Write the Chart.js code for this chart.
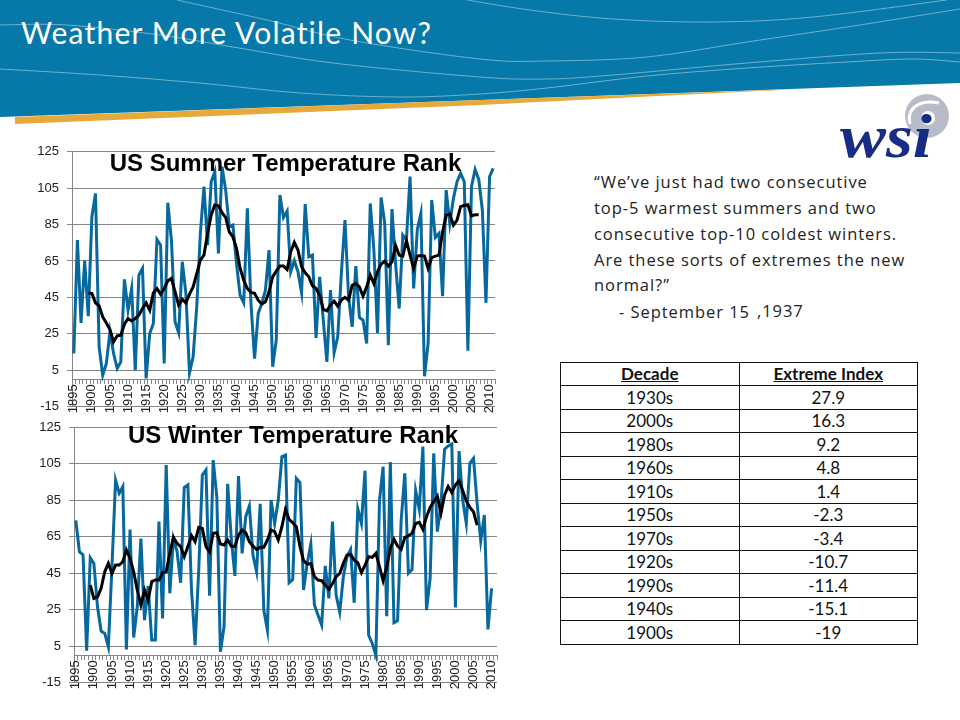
<!DOCTYPE html>
<html><head><meta charset="utf-8">
<script src="https://cdn.jsdelivr.net/npm/chart.js@4"></script>
<style>
html,body{margin:0;padding:0;background:#fff;width:960px;height:720px;overflow:hidden}
.abs{position:absolute}
#title{left:21px;top:14px;font:30px Lato,sans-serif;color:#fff;white-space:nowrap;letter-spacing:1.2px}
.ctitle{font:bold 24px "Liberation Sans",Arial,sans-serif;color:#000;white-space:nowrap;text-align:center;line-height:28px}
.q{left:594px;font:16.5px/24px "Open Sans",sans-serif;color:#222;white-space:nowrap;letter-spacing:.95px}
table{position:absolute;left:560px;top:361.5px;width:358px;height:283px;border-collapse:collapse;table-layout:fixed;font:17px Lato,sans-serif;color:#111}
td,th{border:1.4px solid #111;text-align:center;padding:0;height:23.5px;box-sizing:border-box;line-height:17px}
th{text-decoration:underline;font-weight:bold}
</style></head><body>
<svg id="hdr" class="abs" style="left:0;top:0" width="960" height="170" viewBox="0 0 960 170">
<polygon points="0,0 960,0 960,83 0,117" fill="#0779a9"/>
<polygon points="15,117 480,100 800,89 480,105 15,124" fill="#e6a93a"/>
<circle cx="927" cy="116" r="22" fill="#b8bcc9"/>
<circle cx="928" cy="118" r="7" fill="#fff"/>
<path d="M910,124 C906,108 920,99 939,103" fill="none" stroke="#fff" stroke-width="3"/>
<text x="840" y="157" font-family="Liberation Serif" font-weight="bold" font-style="italic" font-size="62" fill="#172c85" textLength="92" lengthAdjust="spacingAndGlyphs">wsi</text>
</svg>
<div id="title" class="abs">Weather More Volatile Now?</div>

<div class="abs" style="left:30px;top:130px;width:480px;height:295px"><canvas id="summer"></canvas></div>
<div class="abs" style="left:31.5px;top:406px;width:480px;height:299px"><canvas id="winter"></canvas></div>
<div class="abs ctitle" style="left:85.5px;top:149px;width:400px">US Summer Temperature Rank</div>
<div class="abs ctitle" style="left:93px;top:421px;width:400px">US Winter Temperature Rank</div>

<div class="abs q" style="top:170px">“We’ve just had two consecutive</div>
<div class="abs q" style="top:196px">top-5 warmest summers and two</div>
<div class="abs q" style="top:222px">consecutive top-10 coldest winters.</div>
<div class="abs q" style="top:248px">Are these sorts of extremes the new</div>
<div class="abs q" style="top:273px">normal?”</div>
<div class="abs q" style="top:300px;left:619px">- September 15</div>
<div class="abs q" style="top:299px;left:757px">,1937</div>

<table id="tbl"></table>

<script>
const tickYears = [];
for (let y = 1895; y <= 2011; y++) tickYears.push(y);

const summerRank = [14.2,76.5,31,65.1,34.7,89.3,102.1,17.9,2.3,8.7,26.1,14.2,6,9.6,54.9,38,49.9,5,57.2,60.9,0.5,25.2,30.7,76.8,73.7,8.7,97,76.5,31.6,25.5,64.6,47.2,3.6,12.4,39.8,80.1,105.8,73.7,108.5,114,69.1,116.8,103.9,83.8,84.7,63.6,46.2,42,93.9,41.7,11.4,36.2,41.7,49,71,
6.9,21.5,101.2,88.9,92.4,59.1,65.1,59.1,47.5,96.2,67.3,68.2,22.8,56.3,32.5,9.6,49,14.6,23.4,58.2,87.5,45.3,28.8,62.2,34,32.5,19.7,96.6,71,25.5,99.9,85.6,18.8,93.5,63.6,38.9,79.2,76.5,111.3,49.9,82,91.1,1.7,19.7,98.4,77.9,80.1,45.7,103.9,85.6,99.4,108.5,113.1,108.5,15.7,105.8,115.3,109.8,93,42,111.3,115.8];
const summerAvg = [null,null,null,null,47.5,47.2,42,40.4,34.3,31,27.4,20.6,23.9,24.2,30.3,33.4,32.1,33.4,35.3,38.9,42,38,47.5,49.9,46.8,49.9,54.1,55.4,48.1,40.8,43.9,42,46.8,50.8,58.1,65.5,68.2,80.1,90.2,95.7,95.3,91.5,88.9,81,78.3,71.9,60.9,54.5,49.9,47.7,47.2,43.5,41.3,42.6,48.1,
56.3,59.4,62.2,62.2,60.3,70.1,75.2,71,61.8,58.5,56.3,51.4,49.9,46.2,38.4,37.6,40.8,43,40.2,43.5,45,43.5,51.7,52.6,50.8,45.7,50.8,57.2,52.6,59.1,63.3,64.9,62.2,64.6,73.5,68.2,67.8,76.1,68.2,60.9,67.7,68,67.7,60.9,66.9,67.7,68.2,81,90.2,90.8,84.7,87.5,94.8,95.5,95.9,89.8,90.4,90.4];
const winterRank = [74,56.8,55,2.5,53.5,50.4,26.6,13.3,12,4.7,48.6,96,88.8,92.5,3.2,69,9.8,26.6,64,19.3,38,8.4,8.4,73.3,20.2,104.3,34,64,57,39.8,92,93.4,35.8,5.6,46.8,98.9,101.6,32.7,107,87,2,15.7,94,64,43.5,98.3,55.9,76,81.9,55,45.8,83,24.8,13.8,85.1,
72.3,85.1,108.9,109.8,39.8,41.6,97,94.7,35.8,50.4,61,27.6,22,16.6,49,31.2,73.3,33,23.7,43,54,58,28.8,80.2,72.3,101.2,11,6.5,0.1,85,103.4,21.5,106,17.9,19,74.2,99.8,45,47,90.3,80,114.4,24.8,42.2,110.7,67.8,83,113,114.8,115.9,26.3,112,85.1,72.3,105.3,108,83.3,62.8,76.9,14.2,36.7];
const winterAvg = [null,null,null,null,38.5,31.2,32.1,36.7,45.8,50.4,44.9,49.5,49.5,51.3,57.7,53.2,45.8,35.8,27.6,35.8,30.3,40.4,41.3,41.3,45.3,45.8,55.9,64.7,61.4,59.6,54.1,59.6,65.6,62.3,70.2,69.6,59.6,56.8,66.9,67.2,61,60.5,63.2,59.9,59.6,66,68.7,67.2,62.3,59.9,58.1,59.2,59.2,63.2,68.7,
67.8,63.2,70.5,80,74.5,72.7,70.5,59.6,51.9,50,50.4,43.1,41.3,40.9,38.5,36.2,39.4,43.1,44.9,50.4,54.9,55.3,52.2,50.8,45.3,49.5,54.1,53.7,55.9,48.6,40.9,48.6,58.6,63.6,59.9,58.1,64.7,65.4,66.9,72.3,72.9,69,76,81.1,84.2,87.3,77.8,87.9,92.5,89.2,93.4,95.8,90.3,84.6,81.1,78.7,71.4];

const decades = ["1930s","2000s","1980s","1960s","1910s","1950s","1970s","1920s","1990s","1940s","1900s"];
const extremeIndex = ["27.9","16.3","9.2","4.8","1.4","-2.3","-3.4","-10.7","-11.4","-15.1","-19"];

document.getElementById('tbl').innerHTML =
  '<tr><th>Decade</th><th>Extreme Index</th></tr>' +
  decades.map((d,i)=>`<tr><td>${d}</td><td>${extremeIndex[i]}</td></tr>`).join('');

// decorative header waves
const waves = [
 [[0,25],[67,25],[160,35],[233,47],[333,63],[480,77],[547,79],[613,75],[747,63],[880,53],[960,53]],
 [[177,0],[267,20],[350,40],[480,59],[547,61],[647,57],[747,42],[847,27],[960,9]],
 [[0,69],[100,75],[200,83],[300,93],[400,97],[480,94],[547,88],[647,76],[747,68],[847,62],[913,59],[960,62]],
 [[467,0],[530,10],[613,19],[713,22],[813,17],[947,0]]
];
const hdr = document.getElementById('hdr');
const ref = hdr.querySelector('circle');
waves.forEach(p=>{
  let d='M'+p[0];
  for(let i=0;i<p.length-1;i++){
    const a=p[Math.max(i-1,0)],b=p[i],c=p[i+1],e=p[Math.min(i+2,p.length-1)];
    d+=` C${b[0]+(c[0]-a[0])/6},${b[1]+(c[1]-a[1])/6} ${c[0]-(e[0]-b[0])/6},${c[1]-(e[1]-b[1])/6} ${c}`;
  }
  const el=document.createElementNS('http://www.w3.org/2000/svg','path');
  el.setAttribute('d',d);el.setAttribute('fill','none');el.setAttribute('stroke','#6fb0cf');el.setAttribute('stroke-width','1');
  hdr.insertBefore(el,ref);
});

function makeChart(id, rank, avg, padTop, padBottom){
  return new Chart(document.getElementById(id), {
    type:'line',
    data:{labels:tickYears.map(String),datasets:[
      {data:avg,borderColor:'#000',borderWidth:3,pointRadius:0,tension:0,spanGaps:false,order:0},
      {data:rank,borderColor:'#06689c',borderWidth:3,pointRadius:0,tension:0,order:1}
    ]},
    options:{
      responsive:true,maintainAspectRatio:false,animation:false,
      layout:{autoPadding:false,padding:{top:padTop,bottom:padBottom,right:15,left:0}},
      plugins:{legend:{display:false},title:{display:false},tooltip:{enabled:false}},
      scales:{
        y:{min:-15,max:125,
          afterFit(s){s.width=42;},
          ticks:{stepSize:20,color:'#222',font:{family:'"Liberation Sans"',size:13},padding:8},
          grid:{color:'#868686',lineWidth:1,tickLength:5,drawTicks:true},
          border:{color:'#868686'}},
        x:{position:{y:0},offset:true,
          grid:{offset:true,drawOnChartArea:false,color:'#868686',tickLength:4},
          border:{color:'#868686'},
          ticks:{autoSkip:false,minRotation:90,maxRotation:90,padding:1,color:'#222',
            font:{family:'"Liberation Sans"',size:13},
            callback(v,i){const y=tickYears[i];return (y-1895)%5===0&&y<2011?String(y):'';}}}
      }
    }
  });
}
makeChart('summer',summerRank,summerAvg,21.7,18.3);
makeChart('winter',winterRank,winterAvg,21.3,22.3);
</script>
</body></html>
